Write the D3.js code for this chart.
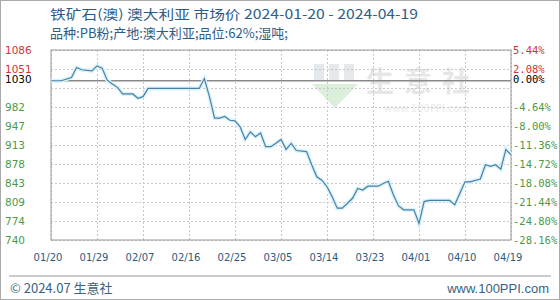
<!DOCTYPE html>
<html><head><meta charset="utf-8">
<script src="https://cdn.jsdelivr.net/npm/d3@7"></script>
<style>body{margin:0;background:#fff}</style>
</head><body><div id="chart"></div>
<script>
// price series (yuan/wet ton)
var dates=["2024-01-20","2024-01-22","2024-01-24","2024-01-25","2024-01-26","2024-01-28","2024-01-29","2024-01-30","2024-01-31",
	"2024-02-01","2024-02-02","2024-02-03","2024-02-05","2024-02-06","2024-02-07","2024-02-08","2024-02-18","2024-02-19","2024-02-20",
	"2024-02-21","2024-02-22","2024-02-23","2024-02-24","2024-02-25","2024-02-26","2024-02-27","2024-02-28","2024-02-29",
	"2024-03-01","2024-03-02","2024-03-03","2024-03-04","2024-03-05","2024-03-06","2024-03-07","2024-03-08","2024-03-10",
	"2024-03-11","2024-03-12","2024-03-13","2024-03-14","2024-03-15","2024-03-16","2024-03-17","2024-03-18","2024-03-19",
	"2024-03-20","2024-03-21","2024-03-22","2024-03-24","2024-03-25","2024-03-26","2024-03-27","2024-03-28","2024-03-29",
	"2024-03-31","2024-04-01","2024-04-02","2024-04-03","2024-04-07","2024-04-08","2024-04-09","2024-04-10","2024-04-11",
	"2024-04-13","2024-04-14","2024-04-15","2024-04-16","2024-04-17","2024-04-18","2024-04-19"];
var prices=[1030,1030,1036,1054,1050,1048,1057,1053,1031,
	1024,1018,1006,1006,998,1001,1016,1016,1034,1001,
	962,962,965,958,957,946,923,937,928,
	935,910,910,916,923,905,916,903,901,
	877,855,849,837,819,798,798,807,816,
	834,831,838,838,843,847,822,802,795,
	795,770,810,812,812,804,825,846,846,
	851,877,874,877,869,905,895];
var basePrice=1030;

var xTickDates=["2024-01-20","2024-01-29","2024-02-07","2024-02-16","2024-02-25","2024-03-05","2024-03-14","2024-03-23","2024-04-01","2024-04-10","2024-04-19"];
var xTickLabels=["01/20","01/29","02/07","02/16","02/25","03/05","03/14","03/23","04/01","04/10","04/19"];
var yTickValues=[740,774.6,809.2,843.8,878.4,913,947.6,982.2,1016.8,1051.4,1086];
var yTickLabels=["740","774","809","843","878","913","947","982","","1051","1086"];
var pctLabels=["-28.16%","-24.80%","-21.44%","-18.08%","-14.72%","-11.36%","-8.00%","-4.64%","","2.08%","5.44%"];

var width=560, height=300;
// plot box (don't call it "top", that is window.top)
var pLeft=51, pRight=511, pTop=50, pBottom=240;
var parse=d3.timeParse("%Y-%m-%d");
var data=dates.map(function(d,i){return {date:parse(d),v:prices[i]};});

var x=d3.scaleTime().domain([parse(dates[0]),parse(dates[dates.length-1])]).range([pLeft,pRight]);
var y=d3.scaleLinear().domain([740,1086]).range([pBottom,pTop]);

var svg=d3.select("#chart").append("svg").attr("width",width).attr("height",height)
	.style("font-family","'DejaVu Sans',sans-serif");
svg.append("rect").attr("x",0.5).attr("y",0.5).attr("width",width-1).attr("height",height-1)
	.attr("fill","#fff").attr("stroke","#aaa");

// title
var titleColor="#2c5d88";
svg.append("text").attr("x",50).attr("y",19).attr("fill",titleColor)
	.style("font-family","'Noto Sans CJK SC',sans-serif").style("font-size","13px")
	.attr("textLength",368).attr("lengthAdjust","spacingAndGlyphs")
	.text("铁矿石(澳) 澳大利亚 市场价 2024-01-20 - 2024-04-19");
svg.append("text").attr("x",50).attr("y",38).attr("fill",titleColor)
	.style("font-family","'Noto Sans CJK SC',sans-serif").style("font-size","13px")
	.attr("textLength",238).attr("lengthAdjust","spacingAndGlyphs")
	.text("品种:PB粉;产地:澳大利亚;品位:62%;湿吨;");

// watermark
var wm=svg.append("g").attr("opacity",0.5);
wm.append("rect").attr("x",314).attr("y",64).attr("width",10).attr("height",16).attr("fill","#cfd4d8");
wm.append("rect").attr("x",329).attr("y",64).attr("width",10).attr("height",16).attr("fill","#cfd4d8");
wm.append("rect").attr("x",344).attr("y",64).attr("width",10).attr("height",16).attr("fill","#cfd4d8");
wm.append("path").attr("d","M312,84 L358,84 L335,108 Z").attr("fill","#b8e0b8");
wm.append("text").attr("x",366).attr("y",92).attr("fill","#cfcfcf")
	.style("font-family","'Noto Sans CJK SC',sans-serif").style("font-size","28px").style("font-weight","bold")
	.attr("textLength",104).attr("lengthAdjust","spacing").text("生意社");
wm.append("text").attr("x",384).attr("y",112).attr("fill","#d6d6d6")
	.style("font-size","10px").text("www.100PPI.com");

// grid
var grid=svg.append("g");
grid.append("g").attr("transform","translate(0,"+pBottom+")")
	.call(d3.axisBottom(x).tickValues(xTickDates.map(parse)).tickSize(-(pBottom-pTop)).tickFormat(""))
	.call(function(g){g.select(".domain").remove();});
grid.append("g").attr("transform","translate("+pLeft+",0)")
	.call(d3.axisLeft(y).tickValues(yTickValues).tickSize(-(pRight-pLeft)).tickFormat(""))
	.call(function(g){g.select(".domain").remove();});
grid.selectAll("line").attr("stroke","#c8c8c8").attr("stroke-dasharray","2,2");

svg.append("rect").attr("x",pLeft).attr("y",pTop).attr("width",pRight-pLeft).attr("height",pBottom-pTop)
	.attr("fill","none").attr("stroke","#999");
svg.append("line").attr("x1",pLeft).attr("x2",pRight).attr("y1",y(basePrice)).attr("y2",y(basePrice))
	.attr("stroke","#8a8a8a").attr("stroke-width",1.5);

// line
var line=d3.line().x(function(d){return x(d.date);}).y(function(d){return y(d.v);});
svg.append("path").datum(data).attr("d",line).attr("fill","none").attr("stroke","#d8f3fb").attr("stroke-width",4);
svg.append("path").datum(data).attr("d",line).attr("fill","none").attr("stroke","#4a7fa6").attr("stroke-width",1.2);

// tick label colours
var red="#d0343a", green="#4a9a48";
function tickColor(v){return v>basePrice?red:green;}

var yl=svg.append("g");
yTickValues.forEach(function(v,i){
	if(!yTickLabels[i]) return;
	yl.append("text").attr("x",5).attr("y",y(v)).attr("dy","0.35em").attr("fill",tickColor(v))
		.style("font-size","10.5px").text(yTickLabels[i]);
	yl.append("text").attr("x",513).attr("y",y(v)).attr("dy","0.35em").attr("fill",tickColor(v))
		.style("font-family","'DejaVu Sans Mono',monospace").style("font-size","10.5px").text(pctLabels[i]);
});
yl.append("text").attr("x",5).attr("y",y(basePrice)-1).attr("dy","0.35em").attr("fill","#000")
	.style("font-size","10.5px").text("1030");
yl.append("text").attr("x",513).attr("y",y(basePrice)-1).attr("dy","0.35em").attr("fill","#000")
	.style("font-family","'DejaVu Sans Mono',monospace").style("font-size","10.5px").text("0.00%");

// x labels
var xl=svg.append("g");
xTickDates.forEach(function(d,i){
	xl.append("text").attr("x",x(parse(d))-3).attr("y",261).attr("text-anchor","middle").attr("fill","#2d5a7d")
		.style("font-size","10px").text(xTickLabels[i]);
});

// footer
svg.append("line").attr("x1",9).attr("x2",551).attr("y1",276).attr("y2",276).attr("stroke","#999");
svg.append("text").attr("x",10).attr("y",293).attr("fill","#3a5f82")
	.style("font-family","'Noto Sans CJK SC',sans-serif").style("font-size","13px").text("© 2024.07 生意社");
svg.append("text").attr("x",549).attr("y",293).attr("text-anchor","end").attr("fill","#3a5f82")
	.style("font-family","'Liberation Sans',sans-serif").style("font-size","13px").text("www.100PPI.com");
</script>
</body></html>
